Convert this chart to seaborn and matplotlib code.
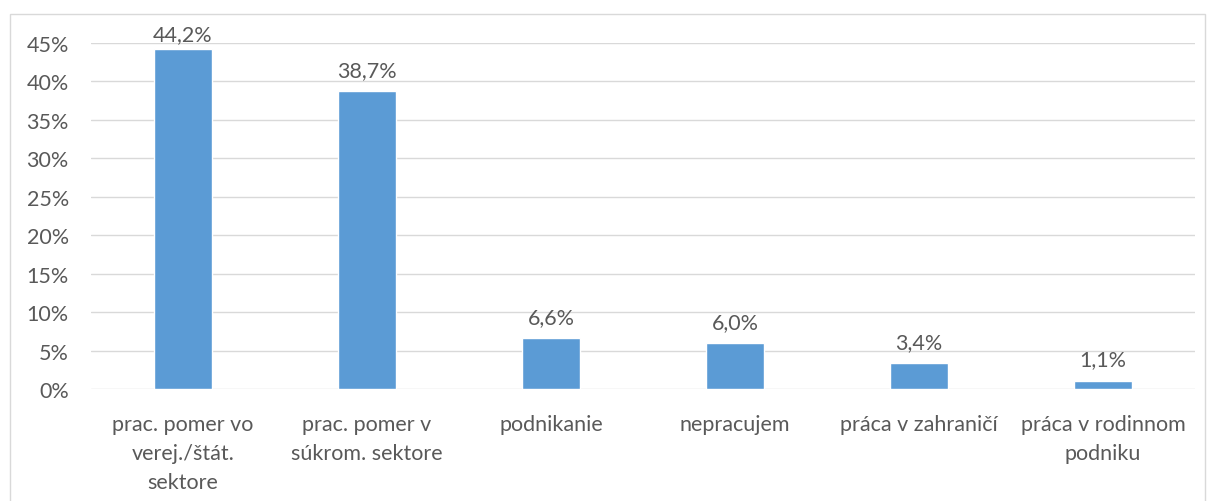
import matplotlib
matplotlib.use("Agg")
import matplotlib.pyplot as plt
import seaborn as sns
import pandas as pd
from matplotlib.patches import Rectangle
from matplotlib.ticker import FuncFormatter

# data
categories = ["prac. pomer vo\nverej./štát.\nsektore",
              "prac. pomer v\nsúkrom. sektore",
              "podnikanie",
              "nepracujem",
              "práca v zahraničí",
              "práca v rodinnom\npodniku"]
values = [44.2, 38.7, 6.6, 6.0, 3.4, 1.1]

df = pd.DataFrame({"kategoria": categories, "podiel": values})

sns.set_style("white")
plt.rcParams['font.family'] = ['Lato', 'DejaVu Sans']
text_color = '#595959'
fs = 15.5

fig = plt.figure(figsize=(12.09, 5.02), dpi=100)
ax = fig.add_axes([91 / 1209, 1 - 390 / 502, (1195 - 91) / 1209, (390 - 44) / 502])

sns.barplot(data=df, x="kategoria", y="podiel", color='#5B9BD5',
            width=0.315, saturation=1, ax=ax, zorder=3)

ax.set_ylim(0, 45)
ax.set_yticks(range(0, 50, 5))
ax.yaxis.set_major_formatter(FuncFormatter(lambda v, p: f"{int(v)}%"))
ax.grid(axis='y', color='#D9D9D9', linewidth=1, zorder=0)
ax.set_axisbelow(True)
for s in ax.spines.values():
    s.set_visible(False)
ax.set_xlabel("")
ax.set_ylabel("")
ax.tick_params(axis='y', labelsize=fs, colors=text_color, length=0, pad=16)
ax.tick_params(axis='x', labelsize=fs, colors=text_color, length=0, pad=18)
for lbl in ax.get_xticklabels():
    lbl.set_linespacing(1.55)

for i, v in enumerate(values):
    off = 4 if v > 44 else 8
    ax.annotate(f"{v:.1f}%".replace(".", ","), (i, v), xytext=(0, off),
                textcoords='offset points', ha='center', va='bottom',
                fontsize=fs, color=text_color)

# chart border
fig.patches.append(Rectangle((10 / 1209, -0.05), (1205 - 10) / 1209, 1.05 - 15 / 502,
                             transform=fig.transFigure, fill=False,
                             edgecolor='#D9D9D9', linewidth=1))

fig.savefig("out.png", dpi=100)
